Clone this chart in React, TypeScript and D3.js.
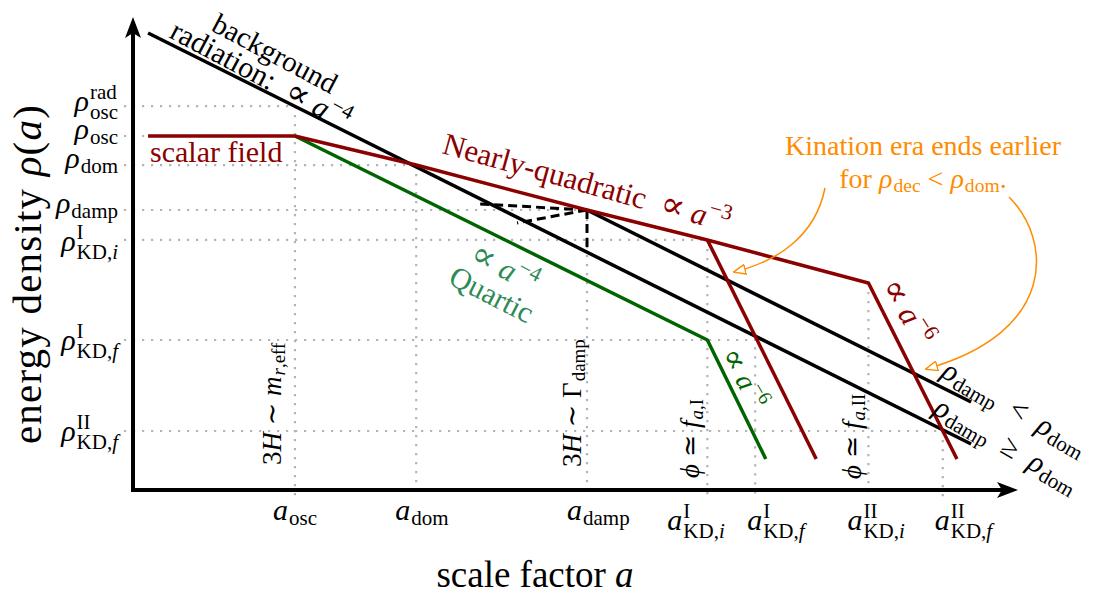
import React, { useEffect, useRef } from 'react';
import * as d3 from 'd3';

const WIDTH = 1101;
const HEIGHT = 601;
const FONT = "'Liberation Serif', 'DejaVu Serif', serif";

// landmarks on the scale factor axis (log a, arbitrary units)
const aKeys = ['osc', 'dom', 'damp', 'KDiI', 'KDfI', 'KDiII', 'KDfII'];
const aValues = [1.83, 3.2, 5.13, 6.49, 7.03, 8.31, 9.15];
// log rho where each vertical guide starts
const aGuideTop = [32.54, 27.54, 23.73, 21.19, 12.85, 17.54, 5.0];

// landmarks on the energy density axis (log rho, arbitrary units)
const rhoKeys = ['oscRad', 'osc', 'dom', 'damp', 'KDiI', 'KDfI', 'KDfII'];
const rhoValues = [32.54, 30.0, 27.54, 23.73, 21.19, 12.71, 5.0];
// log a where each horizontal guide stops
const rhoGuideEnd = [1.83, 1.83, 3.2, 5.13, 6.49, 7.03, 9.15];

// curves as [log a, log rho]
const radiation = [[0.17, 38.73], [9.47, 3.9]];
const radiationAfterDamp = [[5.13, 23.73], [9.47, 7.46]];
const scalarQuadratic = [[0.17, 30], [1.83, 30], [3.2, 27.54], [5.13, 23.73], [6.49, 21.19], [8.31, 17.54], [9.31, 2.63]];
const kinationI = [[6.49, 21.19], [7.72, 2.63]];
const scalarQuartic = [[1.83, 30], [6.49, 12.71], [7.15, 2.63]];
const dampTransfer = [
  [[5.13, 23.73], [3.92, 24.24]],
  [[5.13, 23.73], [4.34, 22.63]],
  [[5.13, 23.73], [5.13, 20.59]],
];

// [text, italic, relative size, font family]
type Seg = [string, boolean?, number?, string?];
type Atom = { t: Seg[]; sub?: Seg[]; sup?: Seg[] };

const NB = '\u00a0';
const kd = (s: string): Seg[] => [['KD,'], [s, true]];
const PROP: Seg = ['∝', false, 1.15, "'DejaVu Serif'"];

// tick label pieces
const rhoTickMath: Record<string, Atom> = {
  oscRad: { t: [['ρ', true]], sub: [['osc']], sup: [['rad']] },
  osc: { t: [['ρ', true]], sub: [['osc']] },
  dom: { t: [['ρ', true]], sub: [['dom']] },
  damp: { t: [['ρ', true]], sub: [['damp']] },
  KDiI: { t: [['ρ', true]], sub: kd('i'), sup: [['I']] },
  KDfI: { t: [['ρ', true]], sub: kd('f'), sup: [['I']] },
  KDfII: { t: [['ρ', true]], sub: kd('f'), sup: [['II']] },
};
const rhoTickDrop = [5, 3, 3, 3, 11, 10, 10];
const aTickMath: Record<string, Atom> = {
  osc: { t: [['a', true]], sub: [['osc']] },
  dom: { t: [['a', true]], sub: [['dom']] },
  damp: { t: [['a', true]], sub: [['damp']] },
  KDiI: { t: [['a', true]], sub: kd('i'), sup: [['I']] },
  KDfI: { t: [['a', true]], sub: kd('f'), sup: [['I']] },
  KDiII: { t: [['a', true]], sub: kd('i'), sup: [['II']] },
  KDfII: { t: [['a', true]], sub: kd('f'), sup: [['II']] },
};
const aTickShift = [-22, -21, -20, -40, -8, -21, -8];

const RED = '#8b0000';
const GREEN = '#006400';
const LIGHTGREEN = '#2e8b57';
const ORANGE = '#ff8c00';
const GRID = '#b4b4b4';

// one <text> per formula: base glyphs, then sub/superscripts stacked with dx/dy
function mathRow(parent: any, atoms: Atom[], size: number, color: string, spacing = 0) {
  const probe = parent.append('text').attr('visibility', 'hidden').attr('letter-spacing', spacing);
  const fill = (node: any, segs: Seg[], fs: number) =>
    segs.map(([s, it, k, fam]) => {
      const sp = node.append('tspan')
        .attr('font-size', fs * (k ?? 1))
        .attr('font-style', it ? 'italic' : 'normal')
        .text(s);
      if (fam) sp.attr('font-family', fam);
      return sp;
    });
  const measure = (segs: Seg[], fs: number) => {
    probe.selectAll('tspan').remove();
    fill(probe, segs, fs);
    return (probe.node() as SVGTextElement).getComputedTextLength();
  };
  const t = parent.append('text').attr('font-size', size).attr('fill', color).attr('letter-spacing', spacing);
  let cur = 0;
  let width = 0;
  const put = (segs: Seg[], fs: number, yOff: number, dx: number) => {
    const spans = fill(t, segs, fs);
    spans[0].attr('dx', dx).attr('dy', yOff - cur);
    cur = yOff;
  };
  const ss = size * 0.7;
  atoms.forEach((a) => {
    put(a.t, size, 0, 0);
    width += measure(a.t, size);
    const scripts: { segs: Seg[]; y: number; w: number }[] = [];
    if (a.sub) scripts.push({ segs: a.sub, y: a.sup ? size * 0.26 : size * 0.16, w: measure(a.sub, ss) });
    if (a.sup) scripts.push({ segs: a.sup, y: -size * 0.4, w: measure(a.sup, ss) });
    scripts.sort((p, q) => p.w - q.w);
    if (scripts.length === 1) {
      put(scripts[0].segs, ss, scripts[0].y, 1);
      width += 1 + scripts[0].w;
    } else if (scripts.length === 2) {
      put(scripts[0].segs, ss, scripts[0].y, 1);
      put(scripts[1].segs, ss, scripts[1].y, -scripts[0].w);
      width += 1 + scripts[1].w;
    }
  });
  probe.remove();
  return { g: t, width };
}

export default function App() {
  const ref = useRef<SVGSVGElement>(null);

  useEffect(() => {
    const svg = d3.select(ref.current);
    svg.selectAll('*').remove();

    const x = d3.scaleLinear().domain([0, 10]).range([133, 1018]);
    const y = d3.scaleLinear().domain([0, 40]).range([490, 18]);
    const line = d3.line<number[]>().x((d) => x(d[0])).y((d) => y(d[1]));

    svg.append('rect').attr('width', WIDTH).attr('height', HEIGHT).attr('fill', '#fff');

    const defs = svg.append('defs');
    defs.append('marker')
      .attr('id', 'openTri')
      .attr('viewBox', '0 0 12 10')
      .attr('refX', 11)
      .attr('refY', 5)
      .attr('markerWidth', 13)
      .attr('markerHeight', 11)
      .attr('markerUnits', 'userSpaceOnUse')
      .attr('orient', 'auto')
      .append('path')
      .attr('d', 'M0.5,0.5 L11.5,5 L0.5,9.5 Z')
      .attr('fill', '#fff')
      .attr('stroke', ORANGE)
      .attr('stroke-width', 1.3);

    // dotted guides
    const grid = svg.append('g')
      .attr('stroke', GRID)
      .attr('stroke-width', 2.2)
      .attr('stroke-dasharray', '2.2,6.8')
      .attr('fill', 'none');
    rhoValues.forEach((r, i) => {
      grid.append('line')
        .attr('x1', 124).attr('x2', x(rhoGuideEnd[i]))
        .attr('y1', y(r)).attr('y2', y(r));
    });
    aValues.forEach((a, i) => {
      grid.append('line')
        .attr('x1', x(a)).attr('x2', x(a))
        .attr('y1', y(aGuideTop[i])).attr('y2', 498);
    });

    // energy density curves
    const curves = svg.append('g').attr('fill', 'none').attr('stroke-width', 3.5);
    [radiation, radiationAfterDamp].forEach((d) => curves.append('path').attr('d', line(d)).attr('stroke', '#000'));
    dampTransfer.forEach((d) =>
      curves.append('path').attr('d', line(d)).attr('stroke', '#000').attr('stroke-width', 3).attr('stroke-dasharray', '9,5'));
    curves.append('path').attr('d', line(scalarQuartic)).attr('stroke', GREEN);
    [scalarQuadratic, kinationI].forEach((d) => curves.append('path').attr('d', line(d)).attr('stroke', RED));

    // axes with arrow heads
    const axes = svg.append('g');
    axes.append('line').attr('x1', x(0)).attr('x2', x(0)).attr('y1', y(0) + 2).attr('y2', 32)
      .attr('stroke', '#000').attr('stroke-width', 4);
    axes.append('line').attr('x1', x(0) - 2).attr('x2', 1004).attr('y1', y(0)).attr('y2', y(0))
      .attr('stroke', '#000').attr('stroke-width', 4);
    axes.append('path').attr('d', 'M133,17 L141,38 L133,33 L125,38 Z').attr('fill', '#000');
    axes.append('path').attr('d', 'M1018,490 L997,482 L1002,490 L997,498 Z').attr('fill', '#000');

    // tick labels
    rhoKeys.forEach((k, i) => {
      const { g, width } = mathRow(svg, [rhoTickMath[k]], 30, '#000');
      g.attr('transform', `translate(${118 - width},${y(rhoValues[i]) + rhoTickDrop[i]})`);
    });
    aKeys.forEach((k, i) => {
      const m = aTickMath[k];
      const { g } = mathRow(svg, [m], 30, '#000');
      g.attr('transform', `translate(${x(aValues[i]) + aTickShift[i]},${m.sup ? 530 : 520})`);
    });

    // axis titles
    const yt = mathRow(svg, [{ t: [['energy' + NB + 'density' + NB], ['ρ', true], ['('], ['a', true], [')']] }], 41, '#000', 1.2);
    yt.g.attr('transform', `translate(41,${274 + yt.width / 2}) rotate(-90)`);
    const xt = mathRow(svg, [{ t: [['scale' + NB + 'factor' + NB], ['a', true]] }], 37, '#000');
    xt.g.attr('transform', `translate(${535 - xt.width / 2},587)`);

    // vertical annotations
    const vert = (atoms: Atom[], px: number, py: number, size: number) => {
      const r = mathRow(svg, atoms, size, '#000');
      r.g.attr('transform', `translate(${px},${py}) rotate(-90)`);
    };
    vert([{ t: [['3'], ['H', true], [NB + '∼' + NB], ['m', true]], sub: [['r', true], [',eff']] }], 281, 465, 27);
    vert([{ t: [['3'], ['H', true], [NB + '∼' + NB + 'Γ']], sub: [['damp']] }], 581, 467, 27);
    vert([{ t: [['ϕ', true], [NB + '≃' + NB], ['f', true]], sub: [['a', true], [',I']] }], 699, 478, 27);
    vert([{ t: [['ϕ', true], [NB + '≃' + NB], ['f', true]], sub: [['a', true], [',II']] }], 861, 479, 27);

    // slanted labels
    const slant = (atoms: Atom[], px: number, py: number, angle: number, size: number, color: string) => {
      const r = mathRow(svg, atoms, size, color);
      r.g.attr('transform', `translate(${px},${py}) rotate(${angle})`);
    };
    slant([{ t: [['background']] }], 210, 30, 28, 29, '#000');
    slant([{ t: [['radiation:' + NB + NB], PROP, [NB], ['a', true]], sup: [['−4']] }], 168, 37, 28, 30, '#000');
    slant([{ t: [['scalar' + NB + 'field']] }], 150, 162, 0, 30, RED);
    slant([{ t: [['Nearly-quadratic' + NB + NB], PROP, [NB], ['a', true]], sup: [['−3']] }], 441, 153, 15.5, 31, RED);
    slant([{ t: [PROP, [NB], ['a', true]], sup: [['−4']] }], 468, 261, 27, 31, LIGHTGREEN);
    slant([{ t: [['Quartic']] }], 447, 283, 27, 30, LIGHTGREEN);
    slant([{ t: [PROP, [NB], ['a', true]], sup: [['−6']] }], 720, 355, 60, 28, GREEN);
    slant([{ t: [PROP, [NB], ['a', true]], sup: [['−6']] }], 880, 287, 58, 31, RED);
    slant([{ t: [['ρ', true]], sub: [['damp']] }, { t: [[NB + NB + '<' + NB + NB], ['ρ', true]], sub: [['dom']] }], 940, 376, 30, 30, '#000');
    slant([{ t: [['ρ', true]], sub: [['damp']] }, { t: [[NB + NB + '≥' + NB + NB], ['ρ', true]], sub: [['dom']] }], 932, 413, 30, 30, '#000');

    // orange note with arrows
    const n1 = mathRow(svg, [{ t: [['Kination' + NB + 'era' + NB + 'ends' + NB + 'earlier']] }], 28, ORANGE);
    n1.g.attr('transform', `translate(${923 - n1.width / 2},155)`);
    const n2 = mathRow(svg, [{ t: [['for' + NB], ['ρ', true]], sub: [['dec']] }, { t: [[NB + '<' + NB], ['ρ', true]], sub: [['dom']] }, { t: [['.']] }], 28, ORANGE);
    n2.g.attr('transform', `translate(${923 - n2.width / 2},188)`);
    const notes = svg.append('g').attr('fill', 'none').attr('stroke', ORANGE).attr('stroke-width', 1.5);
    notes.append('path').attr('d', 'M825,188 C815,238 775,262 734,272').attr('marker-end', 'url(#openTri)');
    notes.append('path').attr('d', 'M1009,197 C1052,240 1058,332 926,369').attr('marker-end', 'url(#openTri)');
  }, []);

  return (
    <svg
      ref={ref}
      width={WIDTH}
      height={HEIGHT}
      fontFamily={FONT}
      style={{ position: 'absolute', left: 0, top: 0, display: 'block' }}
    />
  );
}
